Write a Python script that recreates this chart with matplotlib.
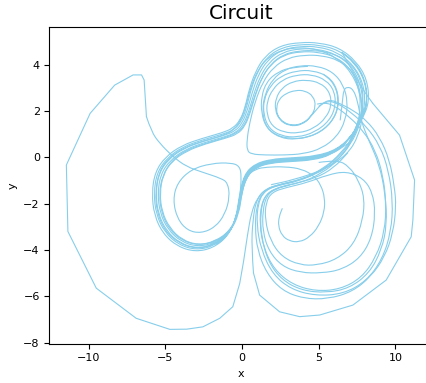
import matplotlib
matplotlib.use("Agg")
import matplotlib.pyplot as plt
from matplotlib.path import Path
from matplotlib.patches import PathPatch

# Traced pieces of the circuit trajectory, (x, y) pairs in state-space units.

# Coarse-stepped excursion on the far left (drawn with straight segments)
left_sweep_path = [
    (0.35, -3.4), (0.1, -4.5), (-0.15, -5.45), (-0.6, -6.45), (-1.45, -6.95),
    (-2.55, -7.32), (-3.6, -7.42), (-4.7, -7.43), (-6.9, -6.95), (-9.5, -5.65),
    (-11.35, -3.2), (-11.45, -0.33), (-9.9, 1.9), (-8.3, 3.12), (-7.1, 3.56),
    (-6.55, 3.56), (-6.38, 3.34), (-6.23, 1.76),
]

# Coarse-stepped swing round the right and bottom of the lower scroll
right_sweep_path = [
    (8.53, 2.33), (10.27, 0.96), (11.25, -0.98), (11.14, -2.71), (11.03, -3.43),
    (9.4, -5.3), (7.23, -6.38), (5.06, -6.81), (3.76, -6.88), (2.45, -6.67),
    (1.15, -5.95), (0.75, -5.0),
]

# Start of the left excursion, coming off the lower scroll top
left_entry_path = [
    (3.3, -1.05), (2.4, -1.18), (1.6, -1.35), (1.0, -1.75), (0.6, -2.4), (0.35, -3.4),
]

# Back from the left excursion: small loop inside the left scroll, then one pass
left_return_path = [
    (-6.23, 1.76), (-5.91, 1.11), (-5.36, 0.6), (-4.5, 0.03),
    (-3.63, -0.4), (-2.54, -0.65), (-1.35, -0.91), (-0.93, -1.1), (-0.8, -1.7),
    (-1.1, -2.45), (-1.75, -3.02), (-2.67, -3.28), (-3.56, -3.16), (-4.22, -2.65),
    (-4.5, -1.84), (-4.22, -1.1), (-3.32, -0.52), (-2.02, -0.26), (-0.72, -0.23),
    (-0.14, -0.38), (-0.04, -0.84), (-0.12, -1.6), (-0.32, -2.55), (-0.85, -3.3),
    (-1.9, -3.8), (-3.0, -3.95), (-4.15, -3.7), (-5.05, -3.15), (-5.55, -2.35),
    (-5.65, -1.5), (-5.4, -0.6), (-4.75, 0.0), (-3.7, 0.45), (-2.45, 0.72),
    (-1.2, 0.95), (-0.5, 1.2), (-0.05, 1.65), (0.25, 2.2), (0.55, 3.0), (1.05, 3.8),
    (1.75, 4.35), (2.7, 4.66), (3.8, 4.75), (4.95, 4.66), (6.15, 4.32), (7.1, 3.7),
    (7.72, 2.8), (7.88, 1.85), (7.62, 0.95), (6.85, 0.1), (5.3, -0.55), (3.3, -0.98),
    (1.9, -1.18),
]

# Loose end in the upper scroll, spiralling inward, then out through the hook
upper_spiral_path = [
    (4.3, 3.93), (3.3, 3.9), (2.35, 3.7), (1.6, 3.27), (1.26, 2.62), (1.26, 1.9),
    (1.6, 1.25), (2.45, 0.85), (3.54, 0.76), (4.84, 0.98), (5.85, 1.5), (6.32, 2.19),
    (6.22, 2.95), (5.65, 3.5), (4.6, 3.76), (3.55, 3.74), (2.55, 3.52), (1.85, 3.1),
    (1.42, 2.5), (1.4, 1.85), (1.75, 1.25), (2.55, 0.92), (3.6, 0.86), (4.75, 1.08),
    (5.7, 1.58), (6.12, 2.22), (6.02, 2.88), (5.48, 3.34), (4.55, 3.58), (3.55, 3.56),
    (2.65, 3.36), (2.0, 2.95), (1.62, 2.4), (1.62, 1.85), (1.95, 1.35), (2.7, 1.08),
    (3.7, 1.04), (4.7, 1.25), (5.5, 1.72), (5.85, 2.28), (5.7, 2.85), (5.1, 3.22),
    (4.2, 3.35), (3.3, 3.28), (2.6, 3.0), (2.2, 2.55), (2.15, 2.05), (2.45, 1.6),
    (3.1, 1.35), (3.9, 1.4), (4.5, 1.75), (4.82, 2.2), (4.65, 2.65), (4.1, 2.88),
    (3.5, 2.9), (2.85, 2.76), (2.4, 2.5), (2.24, 2.15), (2.3, 1.8), (2.7, 1.5),
    (3.32, 1.37), (4.05, 1.48), (4.6, 1.85), (5.0, 2.18), (5.39, 2.4), (5.82, 2.48),
    (6.36, 2.33), (7.23, 2.04), (8.1, 1.61), (8.97, 0.89), (9.62, -0.12), (9.94, -1.27),
    (10.05, -2.13), (9.84, -3.28), (9.3, -4.3), (8.4, -5.15), (7.2, -5.8), (5.6, -6.12),
    (4.0, -6.1), (2.6, -5.75), (1.6, -5.0), (1.0, -4.0), (0.85, -3.0), (0.95, -2.1),
    (1.3, -1.55), (2.0, -1.25), (3.3, -1.05), (4.8, -0.75), (6.1, -0.2), (7.1, 0.55),
    (7.75, 1.5), (7.95, 2.6), (7.65, 3.55), (6.9, 4.15), (5.9, 4.5), (4.8, 4.62),
    (3.7, 4.6), (2.7, 4.45), (1.9, 4.05), (1.3, 3.45), (0.85, 2.7), (0.5, 1.95),
    (0.15, 1.35), (-0.35, 1.05), (-1.1, 0.85), (-2.4, 0.6), (-3.7, 0.3), (-4.6, -0.15),
    (-5.2, -0.8), (-5.4, -1.6), (-5.25, -2.4), (-4.75, -3.1), (-3.9, -3.6),
    (-2.85, -3.8), (-1.75, -3.65), (-0.75, -3.2), (-0.2, -2.45), (0.0, -1.5),
    (0.3, -0.8), (0.95, -0.4), (1.9, -0.22), (3.2, -0.15), (4.6, -0.1), (5.9, 0.15),
    (6.9, 0.6),
]

# Repeated double-scroll passes: upper scroll -> S bend -> left scroll -> centre
figure_loops_path = [
    (6.9, 0.55), (7.5, 1.3), (7.75, 2.2), (7.6, 3.1), (7.05, 3.85), (6.1, 4.35),
    (4.95, 4.55), (3.8, 4.57), (2.7, 4.42), (1.85, 4.0), (1.25, 3.4), (0.85, 2.65),
    (0.55, 1.95), (0.2, 1.35), (-0.3, 1.0), (-1.1, 0.82), (-2.4, 0.58), (-3.6, 0.28),
    (-4.55, -0.15), (-5.15, -0.75), (-5.36, -1.55), (-5.22, -2.35), (-4.72, -3.05),
    (-3.9, -3.57), (-2.85, -3.79), (-1.75, -3.63), (-0.8, -3.18), (-0.25, -2.45),
    (-0.02, -1.55), (0.3, -0.82), (0.95, -0.42), (1.9, -0.24), (3.2, -0.18),
    (4.6, -0.12), (5.8, 0.1), (6.8, 0.6),
    (7.55, 1.35), (7.9, 2.25), (7.75, 3.15), (7.15, 3.93), (6.15, 4.45), (4.95, 4.68),
    (3.8, 4.7), (2.65, 4.55), (1.75, 4.1), (1.15, 3.45), (0.75, 2.7), (0.45, 2.0),
    (0.1, 1.42), (-0.38, 1.07), (-1.15, 0.88), (-2.45, 0.64), (-3.7, 0.34),
    (-4.68, -0.12), (-5.3, -0.72), (-5.5, -1.55), (-5.35, -2.4), (-4.83, -3.12),
    (-3.98, -3.64), (-2.9, -3.86), (-1.78, -3.7), (-0.83, -3.24), (-0.28, -2.5),
    (-0.06, -1.57), (0.26, -0.8), (0.93, -0.38), (1.9, -0.2), (3.2, -0.14),
    (4.65, -0.08), (5.9, 0.16), (6.9, 0.7),
    (7.65, 1.45), (8.05, 2.3), (7.9, 3.22), (7.25, 4.0), (6.2, 4.55), (4.97, 4.78),
    (3.8, 4.8), (2.6, 4.65), (1.65, 4.2), (1.05, 3.55), (0.65, 2.78), (0.36, 2.05),
    (0.02, 1.48), (-0.45, 1.13), (-1.2, 0.94), (-2.5, 0.7), (-3.78, 0.4),
    (-4.8, -0.08), (-5.43, -0.7), (-5.62, -1.55), (-5.47, -2.43), (-4.93, -3.18),
    (-4.05, -3.71), (-2.95, -3.93), (-1.82, -3.77), (-0.86, -3.3), (-0.31, -2.55),
    (-0.1, -1.6), (0.22, -0.78), (0.9, -0.35), (1.9, -0.16), (3.2, -0.1),
    (4.7, -0.04), (6.0, 0.22), (7.0, 0.78),
    (7.75, 1.55), (8.18, 2.35), (8.02, 3.3), (7.35, 4.08), (6.28, 4.64), (5.0, 4.86),
    (3.8, 4.88), (2.55, 4.74), (1.57, 4.3), (0.95, 3.62), (0.55, 2.85), (0.28, 2.1),
    (-0.05, 1.54), (-0.52, 1.19), (-1.25, 1.0), (-2.55, 0.76), (-3.85, 0.46),
    (-4.9, -0.03), (-5.55, -0.67), (-5.75, -1.55), (-5.6, -2.46), (-5.04, -3.24),
    (-4.12, -3.78), (-3.0, -4.0), (-1.86, -3.84), (-0.9, -3.36), (-0.35, -2.6),
    (-0.14, -1.63), (0.18, -0.76), (0.87, -0.32), (1.9, -0.12), (3.2, -0.06),
    (4.75, 0.0), (6.1, 0.28), (7.1, 0.86),
    (7.85, 1.65), (8.3, 2.4), (8.15, 3.38), (7.45, 4.15), (6.35, 4.73), (5.05, 4.95),
    (3.8, 4.97), (2.5, 4.83), (1.5, 4.38), (0.87, 3.7), (0.46, 2.92), (0.2, 2.15),
    (-0.12, 1.6), (-0.6, 1.25), (-1.3, 1.06), (-2.6, 0.82), (-3.92, 0.52),
    (-5.0, 0.02), (-5.67, -0.64), (-5.88, -1.55), (-5.72, -2.5), (-5.15, -3.3),
    (-4.2, -3.85), (-3.05, -4.08), (-1.9, -3.92), (-0.94, -3.42), (-0.39, -2.65),
    (-0.18, -1.66), (0.14, -0.74), (0.84, -0.28), (1.9, -0.08), (3.2, -0.02),
    (4.8, 0.05), (6.2, 0.34), (7.2, 0.95), (7.9, 1.75), (8.2, 2.6), (7.95, 3.5),
    (7.3, 4.15), (6.5, 4.55),
]

# Joins the top of the upper scroll to the right-hand sweep
right_entry_path = [(6.5, 4.55), (7.2, 3.75), (7.8, 3.0), (8.53, 2.33)]

# Climb back up from the bottom of the right-hand sweep
right_return_path = [
    (0.75, -5.0), (0.62, -3.9), (0.7, -2.7), (0.95, -1.8), (1.55, -1.35), (2.6, -1.15),
    (3.9, -0.95), (5.3, -0.5), (6.5, 0.2), (7.4, 1.05), (7.9, 2.0),
]

# Passes through the lower scroll leaving from the upper scroll interior
lower_loop_a = [
    (4.9, 2.3), (5.4, 2.38), (6.1, 2.2), (7.0, 1.75), (7.9, 1.15), (8.7, 0.3),
    (9.2, -0.8), (9.4, -2.0), (9.3, -3.2), (8.75, -4.3), (7.8, -5.2), (6.4, -5.7),
    (4.8, -5.78), (3.3, -5.5), (2.1, -4.85), (1.4, -3.9), (1.15, -2.9), (1.25, -2.0),
    (1.7, -1.5), (2.6, -1.25), (3.8, -1.1), (5.2, -0.7), (6.4, -0.05), (7.25, 0.8),
    (7.7, 1.8),
]
lower_loop_b = [
    (5.0, 2.2), (5.5, 2.45), (6.2, 2.35), (7.1, 1.95), (8.1, 1.35), (9.0, 0.5),
    (9.55, -0.55), (9.84, -1.9), (9.72, -3.2), (9.15, -4.4), (8.1, -5.35), (6.6, -5.9),
    (4.8, -5.98), (3.2, -5.7), (2.0, -5.05), (1.25, -4.0), (0.95, -2.9), (1.05, -1.95),
    (1.5, -1.42), (2.4, -1.2), (3.6, -1.05), (5.0, -0.65), (6.3, 0.0), (7.3, 0.85),
    (7.85, 1.9),
]

# Hooked path entering the lower scroll from the top right
lower_hook_path = [
    (6.4, 1.6), (6.55, 2.4), (6.62, 2.9), (6.85, 3.05), (7.25, 2.95), (7.55, 2.4),
    (7.75, 1.6), (8.25, 0.75), (8.95, -0.3), (9.35, -1.6), (9.45, -2.9), (9.1, -4.0),
    (8.3, -5.0), (7.0, -5.65), (5.5, -5.85), (3.9, -5.75), (2.6, -5.3), (1.7, -4.5),
    (1.25, -3.4), (1.2, -2.4), (1.45, -1.7), (2.1, -1.35), (3.3, -1.15), (4.8, -0.9),
    (6.0, -0.45), (6.9, 0.2),
]

# Smaller loops of the lower scroll
lower_inner_loops = [
    (5.0, -0.22), (6.2, -0.1), (7.0, -0.4), (7.6, -1.0), (7.99, -1.75), (7.88, -2.71),
    (7.3, -3.75), (6.2, -4.4), (4.9, -4.66), (3.76, -4.65), (2.6, -4.3), (1.85, -3.6),
    (1.5, -2.7), (1.55, -1.95), (1.95, -1.5), (2.9, -1.3), (4.2, -1.1), (5.6, -0.75),
    (6.8, -0.6), (7.9, -0.9), (8.5, -1.5), (8.7, -2.4), (8.45, -3.5), (7.7, -4.35),
    (6.5, -4.85), (5.2, -5.0), (3.8, -4.98), (2.6, -4.7), (1.75, -4.05), (1.35, -3.2),
    (1.35, -2.3), (1.6, -1.65), (2.2, -1.35), (3.1, -1.2),
]

# Upper loop that drops down the left side to the centre line
upper_drop_path = [
    (7.85, 1.9), (7.75, 2.9), (7.2, 3.75), (6.3, 4.2), (5.2, 4.4), (4.1, 4.42),
    (3.0, 4.3), (2.05, 3.9), (1.35, 3.25), (0.85, 2.4), (0.5, 1.5), (0.32, 0.75),
    (0.33, 0.3), (0.6, 0.14), (1.5, 0.1), (2.8, 0.1), (4.0, 0.15), (5.2, 0.38),
    (6.2, 0.9), (6.75, 1.6), (6.9, 2.4), (6.6, 3.15), (5.9, 3.7), (4.9, 3.95),
    (3.8, 3.97), (2.8, 3.8), (2.0, 3.38), (1.5, 2.75), (1.32, 2.05), (1.5, 1.4),
    (2.1, 0.98), (3.1, 0.8), (4.3, 0.85), (5.4, 1.2), (6.15, 1.85), (6.3, 2.55),
    (6.0, 3.2), (5.3, 3.6),
]

# Final approach into the lower focus
lower_spiral_path = [
    (-0.05, -1.55), (0.3, -0.8), (0.9, -0.5), (1.6, -0.42), (2.8, -0.4), (3.9, -0.5),
    (4.7, -0.8), (5.15, -1.2), (5.4, -1.75), (5.37, -2.35), (5.0, -2.98), (4.4, -3.45),
    (3.75, -3.66), (3.1, -3.62), (2.6, -3.38), (2.36, -2.95), (2.42, -2.55), (2.63, -2.2),
]

straight_pieces = [left_sweep_path, right_sweep_path]
curved_pieces = [
    left_entry_path, left_return_path, upper_spiral_path, figure_loops_path,
    right_entry_path, right_return_path, lower_loop_a, lower_loop_b,
    lower_hook_path, lower_inner_loops, upper_drop_path, lower_spiral_path,
]

LINE_COLOR = "#87CEEB"
LINE_WIDTH = 0.8


def rounded_path(points):
    """Quadratic Bezier path that uses the traced points as control points."""
    verts = [points[0]]
    codes = [Path.MOVETO]
    for i in range(1, len(points) - 1):
        nxt = points[i + 1]
        mid = ((points[i][0] + nxt[0]) / 2, (points[i][1] + nxt[1]) / 2)
        verts += [points[i], mid]
        codes += [Path.CURVE3, Path.CURVE3]
    verts.append(points[-1])
    codes.append(Path.LINETO)
    return Path(verts, codes)


def plot_circuit(straight, curved):
    """Draw the traced pieces of the trajectory in the x-y plane."""
    fig = plt.figure(figsize=(4.27, 3.83), dpi=100)
    # axes run slightly past the right edge of the canvas
    ax = fig.add_axes([0.1159, 0.1031, 0.8981, 0.8264])

    for piece in straight:
        xs = [p[0] for p in piece]
        ys = [p[1] for p in piece]
        ax.plot(xs, ys, color=LINE_COLOR, linewidth=LINE_WIDTH)

    for piece in curved:
        ax.add_patch(PathPatch(rounded_path(piece), facecolor="none",
                               edgecolor=LINE_COLOR, linewidth=LINE_WIDTH))

    ax.set_xlim(-12.55, 12.45)
    ax.set_ylim(-8.04, 5.63)
    ax.set_xticks([-10, -5, 0, 5, 10])
    ax.set_yticks([-8, -6, -4, -2, 0, 2, 4])
    ax.tick_params(labelsize=8)
    ax.set_xlabel("x", fontsize=8)
    ax.set_ylabel("y", fontsize=8)
    ax.set_title("Circuit", fontsize=14.5)

    fig.savefig("out.png", dpi=100)


if __name__ == "__main__":
    plot_circuit(straight_pieces, curved_pieces)
